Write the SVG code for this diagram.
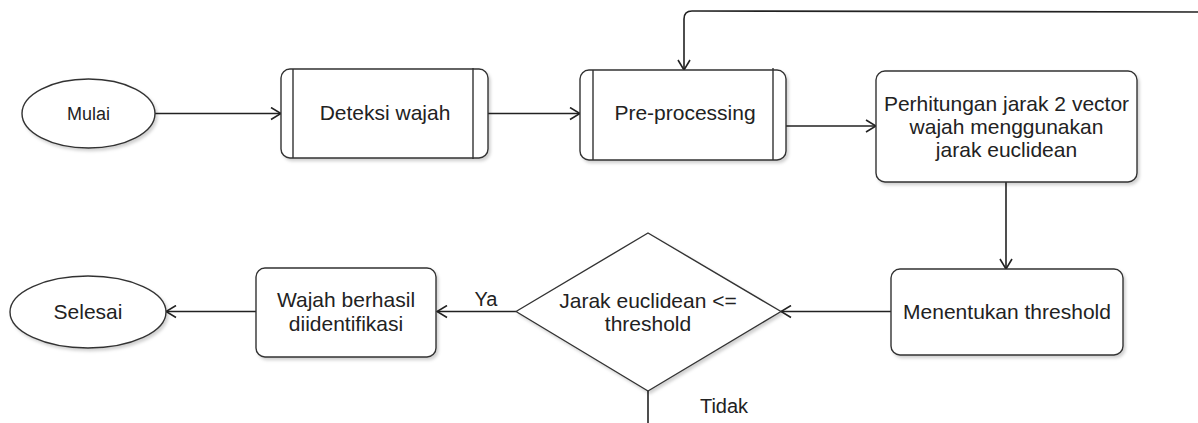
<svg xmlns="http://www.w3.org/2000/svg" width="1198" height="423" viewBox="0 0 1198 423">
<style>
.s{fill:#fff;stroke:#333;stroke-width:1.4;filter:url(#sh)}
.l{fill:none;stroke:#333;stroke-width:1.4}
.c{fill:none;stroke:#222;stroke-width:1.6}
.t{font-family:"Liberation Sans",Arial,sans-serif;font-size:21px;fill:#222;text-anchor:middle}
</style>
<defs>
<filter id="sh" x="-10%" y="-10%" width="125%" height="130%">
<feDropShadow dx="2" dy="2.5" stdDeviation="1.5" flood-color="#000" flood-opacity="0.18"/>
</filter>
<marker id="a" viewBox="0 0 12 14" refX="11" refY="7" markerWidth="12" markerHeight="14" markerUnits="userSpaceOnUse" orient="auto">
<path d="M1,1 L11,7 L1,13" fill="none" stroke="#222" stroke-width="1.6"/>
</marker>
</defs>
<rect width="1198" height="423" fill="#fff"/>
<g id="connectors">
<path class="c" d="M155,113.5 L281,113.5" marker-end="url(#a)"/>
<path class="c" d="M488,113.5 L580,113.5" marker-end="url(#a)"/>
<path class="c" d="M786,126 L876,126" marker-end="url(#a)"/>
<path class="c" d="M1198,12 L692,11 Q684,11 684,19 L684,70" marker-end="url(#a)"/>
<path class="c" d="M1006,182 L1006,269" marker-end="url(#a)"/>
<path class="c" d="M891,311.5 L781,311.5" marker-end="url(#a)"/>
<path class="c" d="M516,311.5 L437,311.5" marker-end="url(#a)"/>
<path class="c" d="M256,311.5 L166,311.5" marker-end="url(#a)"/>
<path class="c" d="M648,391 L648,423"/>
<text class="t" x="486" y="306" style="font-size:20px">Ya</text>
<text class="t" x="724" y="413" style="font-size:20px">Tidak</text>
</g>
<g id="mulai">
<ellipse class="s" cx="88.5" cy="113.5" rx="66.5" ry="34.5"/>
<text class="t" x="88.5" y="120" style="font-size:18px">Mulai</text>
</g>
<g id="deteksi">
<rect class="s" x="281" y="69" width="207" height="89" rx="9"/>
<path class="l" d="M293,69 L293,158 M473,68 L473,159"/>
<text class="t" x="385" y="120">Deteksi wajah</text>
</g>
<g id="preprocessing">
<rect class="s" x="580" y="70" width="206" height="90" rx="9"/>
<path class="l" d="M593,70 L593,160 M773,68 L773,160"/>
<text class="t" x="685" y="120">Pre-processing</text>
</g>
<g id="perhitungan">
<rect class="s" x="876" y="71" width="261" height="111" rx="9"/>
<text class="t" x="1006.5" y="111">Perhitungan jarak 2 vector</text>
<text class="t" x="1006.5" y="134">wajah menggunakan</text>
<text class="t" x="1006.5" y="157">jarak euclidean</text>
</g>
<g id="menentukan">
<rect class="s" x="891" y="269" width="232" height="86" rx="9"/>
<text class="t" x="1007" y="319">Menentukan threshold</text>
</g>
<g id="keputusan">
<path class="s" d="M648,233 L781,311.5 L648,391 L516,311.5 Z" stroke-linejoin="round"/>
<text class="t" x="648" y="308">Jarak euclidean &lt;=</text>
<text class="t" x="648" y="331">threshold</text>
</g>
<g id="berhasil">
<rect class="s" x="256" y="268" width="180" height="89" rx="9"/>
<text class="t" x="346" y="307">Wajah berhasil</text>
<text class="t" x="346" y="331">diidentifikasi</text>
</g>
<g id="selesai">
<ellipse class="s" cx="88" cy="312" rx="78" ry="36"/>
<text class="t" x="88" y="319">Selesai</text>
</g>
</svg>
